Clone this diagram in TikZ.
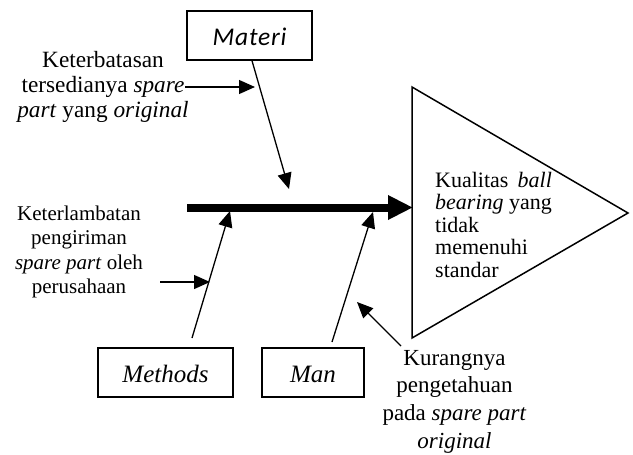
\documentclass[tikz,border=0pt]{standalone}
\usepackage{fontspec}
\setmainfont{Liberation Serif}
\newfontfamily\boxsans[LetterSpace=3]{Carlito}
\usetikzlibrary{arrows.meta}
\newlength\bearw

\begin{document}
\begin{tikzpicture}[x=1pt,y=-1pt,
  causebox/.style={draw, line width=1.4pt, inner sep=0pt, minimum height=49pt,
                   text height=19pt, text depth=0pt},
  subarrow/.style={line width=1.3pt, -{Triangle[length=16pt,width=14pt]}},
  spine/.style={line width=8pt, -{Triangle[length=25pt,width=23pt]}},
  note/.style={inner sep=0pt, anchor=base}]
\useasboundingbox (0,0) rectangle (633,455);

% category boxes
\node[causebox, minimum width=125pt, text height=20pt,
      font={\boxsans\itshape\fontsize{25.5}{30}\selectfont}] (materi) at (249.5,35.5) {Materi};
\node[causebox, minimum width=135pt,
      font={\itshape\fontsize{25}{30}\selectfont}] (methods) at (165.5,372.5) {Methods};
\node[causebox, minimum width=102pt,
      font={\itshape\fontsize{25}{30}\selectfont}] (man) at (313,372.5) {Man};

% effect head
\coordinate (triTop) at (412,87);
\coordinate (triBot) at (412,338);
\coordinate (triApex) at (628,213);
\draw[line width=1.5pt, line join=miter] (triTop) -- (triBot) -- (triApex) -- cycle;
\node[inner sep=0pt, anchor=base west, font=\fontsize{22}{22.5}\selectfont] (effect) at (435,187)
  {\settowidth\bearw{\textit{bearing} yang}\parbox[t]{\bearw}{Kualitas\hfill\textit{ball}\\
   \textit{bearing} yang\\ tidak\\ memenuhi\\ standar}};

% spine
\coordinate (spineTail) at (187,207.5);
\coordinate (spineHead) at (413,207.5);
\draw[spine] (spineTail) -- (spineHead);

% main bones
\coordinate (materiTip) at (289,189);
\draw[subarrow] ([xshift=2.5pt]materi.south) -- (materiTip);
\coordinate (methodsTail) at (192,338);
\coordinate (methodsTip) at (230,211);
\draw[subarrow] (methodsTail) -- (methodsTip);
\coordinate (manTail) at (332,342);
\coordinate (manTip) at (373,212);
\draw[subarrow] (manTail) -- (manTip);

% sub-causes
\node[note, font=\fontsize{23.3}{25.5}\selectfont] (noteMateri) at (103,67)
  {\parbox[t]{200pt}{\centering Keterbatasan\\ tersedianya \textit{spare}\\ \textit{part} yang \textit{original}}};
\coordinate (subAfrom) at (185,87);
\coordinate (subAto) at (255,87);
\draw[subarrow] (subAfrom) -- (subAto);

\node[note, font=\fontsize{21}{24.5}\selectfont] (noteMethods) at (79,220)
  {\parbox[t]{200pt}{\centering Keterlambatan\\ pengiriman\\ \textit{spare part} oleh\\ perusahaan}};
\coordinate (subBfrom) at (160,282);
\coordinate (subBto) at (210,282);
\draw[subarrow] (subBfrom) -- (subBto);

\node[note, font=\fontsize{23}{27.7}\selectfont] (noteMan) at (454.5,365)
  {\parbox[t]{200pt}{\centering Kurangnya\\ pengetahuan\\ pada \textit{spare part}\\ \textit{original}}};
\coordinate (subCfrom) at (401,346);
\coordinate (subCto) at (357,302);
\draw[subarrow] (subCfrom) -- (subCto);
\end{tikzpicture}
\end{document}
